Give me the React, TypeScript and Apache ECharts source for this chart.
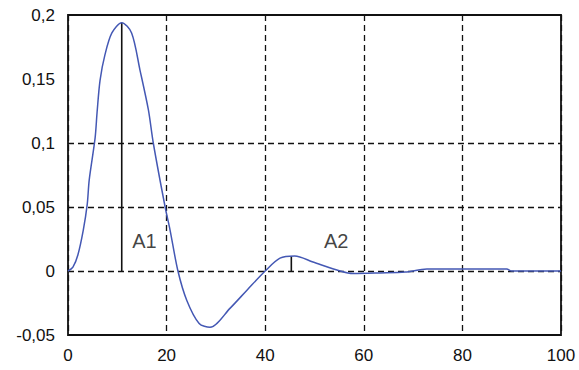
import React, { useEffect, useRef } from "react";
import * as echarts from "echarts";

const xValues = [0, 1, 2, 3.1, 3.9, 4.3, 5.5, 5.9, 6.5, 7.5, 8.9, 10.9, 12.9, 14.6, 16.3, 17.3, 19.7, 20.7, 22.3, 24.1, 26.6, 28.8, 32.9, 36.3, 40, 43, 46, 49.7, 55.2, 57.8, 63.3, 68.4, 72.8, 89, 90, 100];
const yValues = [0, 0.003, 0.0125, 0.032, 0.052, 0.071, 0.104, 0.124, 0.149, 0.169, 0.186, 0.194, 0.186, 0.157, 0.126, 0.1, 0.05, 0.032, 0, -0.023, -0.041, -0.044, -0.029, -0.015, 0, 0.01, 0.0117, 0.007, 0, -0.002, -0.0015, -0.0008, 0.0015, 0.0015, 0, 0];
const xTicks = [0, 20, 40, 60, 80, 100];
const yTicks = [-0.05, 0, 0.05, 0.1, 0.15, 0.2];
const yGridValues = [0, 0.05, 0.1];
const a1X = 10.9;
const a1Peak = 0.194;
const a2X = 45.3;
const a2Peak = 0.0115;
const annotationNames = ["A1", "A2"];
const annotationX = [15.5, 54.4];
const annotationY = [0.0238, 0.0238];

const fmt = (v: number) => String(Math.round(v * 1000) / 1000).replace(".", ",");
const FONT = "Liberation Sans, Arial, sans-serif";

export default function App() {
  const ref = useRef<HTMLDivElement>(null);
  useEffect(() => {
    if (!ref.current) return;
    const chart = echarts.init(ref.current, null, { renderer: "svg" });
    const dash = [6, 4];
    chart.setOption({
      animation: false,
      backgroundColor: "#fff",
      textStyle: { fontFamily: FONT },
      grid: { left: 68, top: 15, width: 493, height: 320, show: true, borderColor: "#111", borderWidth: 1.8, containLabel: false },
      xAxis: {
        type: "value",
        min: xTicks[0],
        max: xTicks[xTicks.length - 1],
        interval: 20,
        axisLine: { show: false },
        axisTick: { show: false },
        axisLabel: { color: "#111", fontSize: 17, margin: 12, fontFamily: FONT },
        splitLine: { show: true, lineStyle: { color: "#111", type: dash, width: 1.3 } },
      },
      yAxis: {
        type: "value",
        min: yTicks[0],
        max: yTicks[yTicks.length - 1],
        interval: 0.05,
        axisLine: { show: false },
        axisTick: { show: false },
        axisLabel: { color: "#111", fontSize: 17, margin: 13, formatter: (v: number) => fmt(v), fontFamily: FONT },
        splitLine: { show: false },
      },
      series: [
        {
          type: "line",
          data: xValues.map((x, i) => [x, yValues[i]]),
          showSymbol: false,
          smooth: 0.3,
          lineStyle: { color: "#4458b4", width: 1.5 },
          z: 5,
          markLine: {
            silent: true,
            symbol: "none",
            label: { show: false },
            lineStyle: { color: "#111", type: dash, width: 1.3 },
            data: yGridValues.map((v) => ({ yAxis: v })),
            z: 1,
          },
        },
        {
          type: "line",
          data: [[a1X, 0], [a1X, a1Peak]],
          showSymbol: false,
          lineStyle: { color: "#111", width: 1.6 },
          z: 4,
        },
        {
          type: "line",
          data: [[a2X, 0], [a2X, a2Peak]],
          showSymbol: false,
          lineStyle: { color: "#111", width: 1.6 },
          z: 4,
        },
        {
          type: "scatter",
          symbolSize: 0,
          data: annotationNames.map((n, i) => ({ name: n, value: [annotationX[i], annotationY[i]] })),
          label: { show: true, position: "inside", formatter: "{b}", color: "#111", fontSize: 20, fontFamily: FONT },
          z: 6,
        },
      ],
    });
    return () => chart.dispose();
  }, []);
  return <div ref={ref} style={{ position: "fixed", left: 0, top: 0, width: 579, height: 370 }} />;
}
